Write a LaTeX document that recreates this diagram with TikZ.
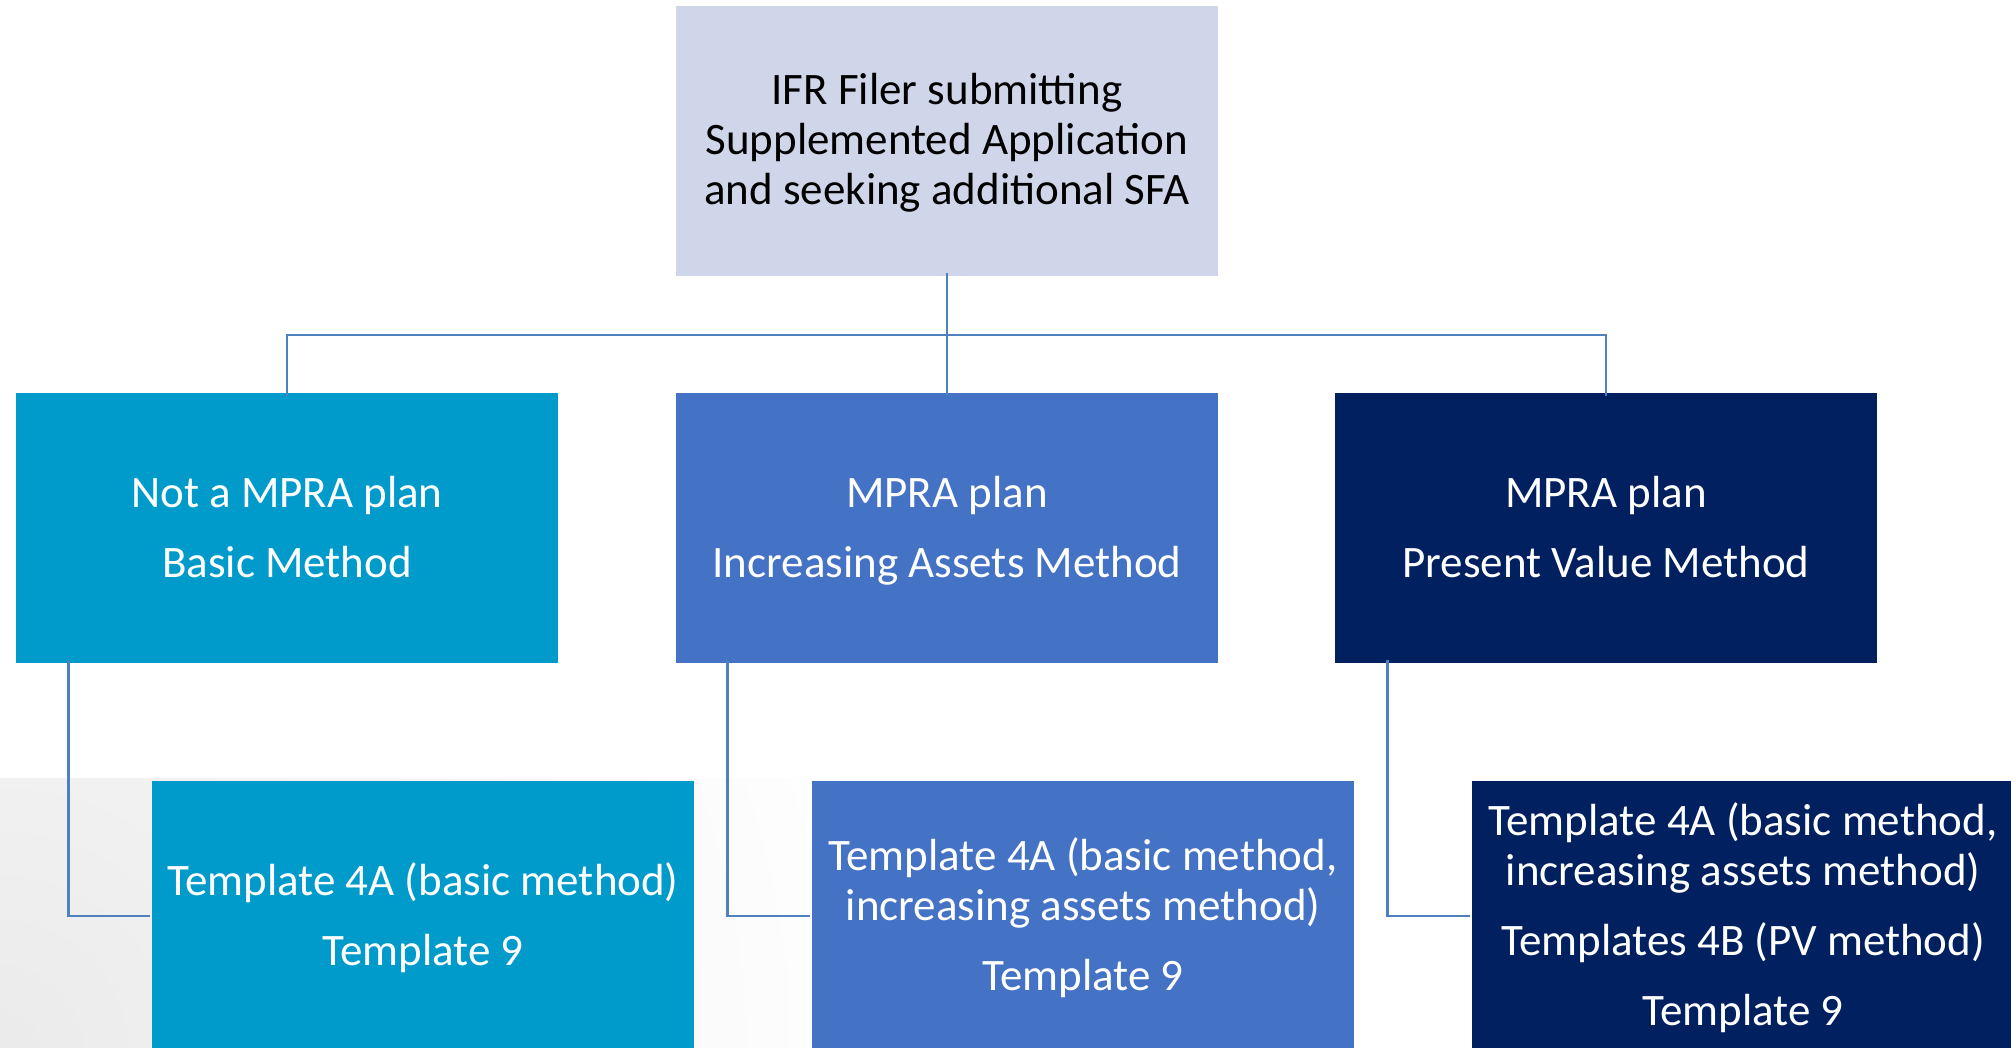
\documentclass[tikz,border=0pt]{standalone}
\usepackage{fontspec}
\setmainfont{Carlito}
\definecolor{topfill}{HTML}{D0D6EA}
\definecolor{cyanfill}{HTML}{009BCB}
\definecolor{midfill}{HTML}{4472C4}
\definecolor{navyfill}{HTML}{002060}
\definecolor{linkblue}{HTML}{4F81BD}
% strut for the first and last line of every box text
\newcommand{\firstln}{\rule{0pt}{43pt}}
\newcommand{\lastln}{\strut}
\tikzset{
  box/.style={minimum width=542pt, minimum height=270pt, inner sep=0pt,
    align=center, font=\fontsize{45}{50}\selectfont},
  lightbox/.style={box, fill=topfill, text=black},
  cyanbox/.style={box, fill=cyanfill, text=white},
  midbox/.style={box, fill=midfill, text=white},
  navybox/.style={box, fill=navyfill, text=white},
  link/.style={draw=linkblue, line width=2.8pt}
}
\begin{document}
\begin{tikzpicture}[x=1pt,y=-1pt]
  % canvas
  \fill[white] (0,0) rectangle (2011,1048);
  \useasboundingbox (0,0) rectangle (2011,1048);
  % soft grey wash along the lower band, strongest at the left
  \begin{scope}
    \clip (0,778) rectangle (2011,1048);
    \shade[inner color=black!8, outer color=white] (0,1048) circle (900);
  \end{scope}

  % top box
  \node[lightbox] (top) at (947,141)
    {\firstln IFR Filer submitting\\Supplemented Application\\and seeking additional SFA\lastln};

  % method row
  \node[cyanbox] (m1) at (287,528) {\firstln Not a MPRA plan\\[20pt]Basic Method\lastln};
  \node[midbox]  (m2) at (947,528) {\firstln MPRA plan\\[20pt]Increasing Assets Method\lastln};
  \node[navybox] (m3) at (1606,528) {\firstln MPRA plan\\[20pt]Present Value Method\lastln};

  % template row
  \node[cyanbox] (t1) at (423,916) {\firstln Template 4A (basic method)\\[20pt]Template 9\lastln};
  \node[midbox]  (t2) at (1083,916)
    {\firstln Template 4A (basic method,\\increasing assets method)\\[20pt]Template 9\lastln};
  \node[navybox] (t3) at (1743,916)
    {\firstln Template 4A (basic method,\\increasing assets method)\\[20pt]Templates 4B (PV method)\\[20pt]Template 9\lastln};

  % tree connectors
  \coordinate (bus) at (947,335);
  \draw[link] ([yshift=3pt]top.south) -- (bus);
  \draw[link] (bus) -| ([yshift=-3pt]m1.north);
  \draw[link] (bus) -| ([yshift=-3pt]m3.north);
  \draw[link] (bus) -- ([yshift=-3pt]m2.north);

  % method-to-template connectors
  \draw[link] ([xshift=53pt,yshift=3pt]m1.south west) |- ([xshift=-2pt]t1.west);
  \draw[link] ([xshift=52pt,yshift=3pt]m2.south west) |- ([xshift=-2pt]t2.west);
  \draw[link] ([xshift=53pt,yshift=3pt]m3.south west) |- ([xshift=-2pt]t3.west);
\end{tikzpicture}
\end{document}
